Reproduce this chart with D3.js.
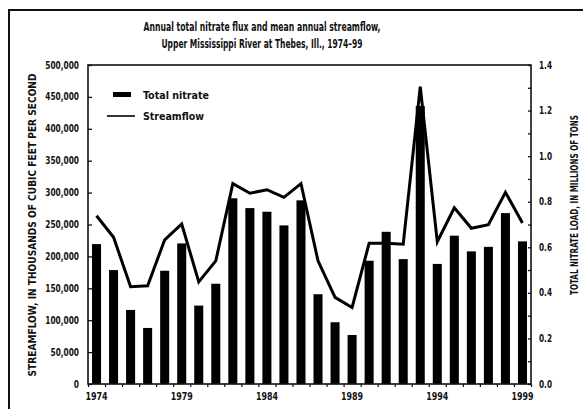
<!DOCTYPE html>
<html><head><meta charset="utf-8">
<script src="https://cdn.jsdelivr.net/npm/d3@7"></script>
<style>
body{margin:0;background:#fff;}
text{font-family:"Liberation Sans Narrow","DejaVu Sans Condensed","Liberation Sans",sans-serif;font-weight:bold;fill:#111;}
</style></head>
<body><svg id="c" width="583" height="409"></svg>
<script>
const years = [1974,1975,1976,1977,1978,1979,1980,1981,1982,1983,1984,1985,1986,1987,1988,1989,1990,1991,1992,1993,1994,1995,1996,1997,1998,1999];
const nitrate = [0.614,0.50,0.325,0.246,0.497,0.617,0.344,0.44,0.815,0.772,0.756,0.696,0.806,0.394,0.271,0.215,0.541,0.668,0.548,1.22,0.527,0.651,0.582,0.602,0.75,0.626];
const streamflow = [263800,230000,152500,154000,226000,250800,160000,193000,314000,299000,304500,292600,314000,193000,135800,120000,220500,220500,219000,466000,223000,276300,244000,249700,300400,252300];
const leftTicks = [0,50000,100000,150000,200000,250000,300000,350000,400000,450000,500000];
const rightTicks = [0,0.2,0.4,0.6,0.8,1.0,1.2,1.4];
const rightMinor = [0.1,0.3,0.5,0.7,0.9,1.1,1.3];
const yearLabels = [1974,1979,1984,1989,1994,1999];
const titleLines = ["Annual total nitrate flux and mean annual streamflow,","Upper Mississippi River at Thebes, Ill., 1974–99"];

const svg = d3.select("#c");
const L=88, R=531, T=65, B=384;

// outer border
svg.append("path").attr("d",`M9,420 V10 H590`).attr("fill","none").attr("stroke","#111").attr("stroke-width",2);

const x = d3.scaleBand().domain(years).range([L,R]).paddingInner(0.47).paddingOuter(0.235);
const xb = d3.scaleBand().domain(years).range([L,R]);
const yL = d3.scaleLinear().domain([0,500000]).range([B,T]);
const yR = d3.scaleLinear().domain([0,1.4]).range([B,T]);

// bars
svg.append("g").selectAll("rect").data(years).join("rect")
  .attr("x",d=>x(d)).attr("width",x.bandwidth())
  .attr("y",(d,i)=>yR(nitrate[i])).attr("height",(d,i)=>B-yR(nitrate[i]))
  .attr("fill","#000");

// line
const line = d3.line().x((d,i)=>xb(years[i])+xb.bandwidth()/2).y(d=>yL(d));
svg.append("path").datum(streamflow).attr("d",line).attr("fill","none")
  .attr("stroke","#000").attr("stroke-width",3).attr("stroke-linejoin","miter");

// frame
svg.append("rect").attr("x",L).attr("y",T).attr("width",R-L).attr("height",B-T)
  .attr("fill","none").attr("stroke","#111").attr("stroke-width",1.6);

const fitW = (s, per, comma) => Array.from(s).reduce((a,c)=>a+((c===","||c===".")?comma:per),0);

// left axis
const gl = svg.append("g").attr("transform",`translate(${L},0)`)
  .call(d3.axisRight(yL).tickValues(leftTicks).tickSize(4).tickFormat(""));
gl.select(".domain").remove();
gl.selectAll("line").attr("stroke","#111").attr("stroke-width",1.3);
svg.append("g").selectAll("text").data(leftTicks).join("text")
  .attr("x",79).attr("y",d=>yL(d)).attr("dy","0.35em").attr("text-anchor","end")
  .attr("font-size",10).attr("lengthAdjust","spacingAndGlyphs")
  .attr("textLength",d=>fitW(d3.format(",")(d),5.2,2.5))
  .text(d=>d3.format(",")(d));

// right axis
const gr = svg.append("g").attr("transform",`translate(${R},0)`)
  .call(d3.axisLeft(yR).tickValues(rightTicks.concat(rightMinor)).tickSize(3).tickFormat(""));
gr.select(".domain").remove();
gr.selectAll("line").attr("stroke","#111").attr("stroke-width",1.3);
svg.append("g").selectAll("text").data(rightTicks).join("text")
  .attr("x",539).attr("y",d=>yR(d)).attr("dy","0.35em").attr("text-anchor","start")
  .attr("font-size",10).attr("lengthAdjust","spacingAndGlyphs").attr("textLength",13)
  .text(d=>d3.format(".1f")(d));

// bottom axis ticks at band boundaries
const gb = svg.append("g").attr("transform",`translate(0,${B})`)
  .call(d3.axisBottom(d3.scaleLinear().domain([0,26]).range([L,R])).ticks(26).tickSize(3).tickFormat(""));
gb.select(".domain").remove();
gb.selectAll("line").attr("stroke","#111").attr("stroke-width",1.2);
svg.append("g").selectAll("text").data(yearLabels).join("text")
  .attr("x",d=>xb(d)+xb.bandwidth()/2).attr("y",400).attr("text-anchor","middle")
  .attr("font-size",10.5).attr("lengthAdjust","spacingAndGlyphs").attr("textLength",22).text(d=>d);

// titles
svg.append("text").attr("x",262).attr("y",31).attr("text-anchor","middle").attr("font-size",13)
  .attr("textLength",237).attr("lengthAdjust","spacingAndGlyphs").text(titleLines[0]);
svg.append("text").attr("x",262).attr("y",48).attr("text-anchor","middle").attr("font-size",13)
  .attr("textLength",201).attr("lengthAdjust","spacingAndGlyphs").text(titleLines[1]);

svg.append("text").attr("transform","translate(36,225) rotate(-90)").attr("text-anchor","middle")
  .attr("font-size",10.5).attr("textLength",303).attr("lengthAdjust","spacingAndGlyphs")
  .text("STREAMFLOW, IN THOUSANDS OF CUBIC FEET PER SECOND");
svg.append("text").attr("transform","translate(578,205) rotate(-90)").attr("text-anchor","middle")
  .attr("font-size",10.5).attr("textLength",180).attr("lengthAdjust","spacingAndGlyphs")
  .text("TOTAL NITRATE LOAD, IN MILLIONS OF TONS");

// legend
svg.append("rect").attr("x",113).attr("y",92).attr("width",18).attr("height",5).attr("fill","#000");
svg.append("text").attr("x",143).attr("y",98.5).attr("font-size",11)
  .attr("textLength",66).attr("lengthAdjust","spacingAndGlyphs").text("Total nitrate");
svg.append("line").attr("x1",107).attr("x2",135).attr("y1",116).attr("y2",116).attr("stroke","#000").attr("stroke-width",1.6);
svg.append("text").attr("x",143).attr("y",120).attr("font-size",11)
  .attr("textLength",61).attr("lengthAdjust","spacingAndGlyphs").text("Streamflow");
</script></body></html>
